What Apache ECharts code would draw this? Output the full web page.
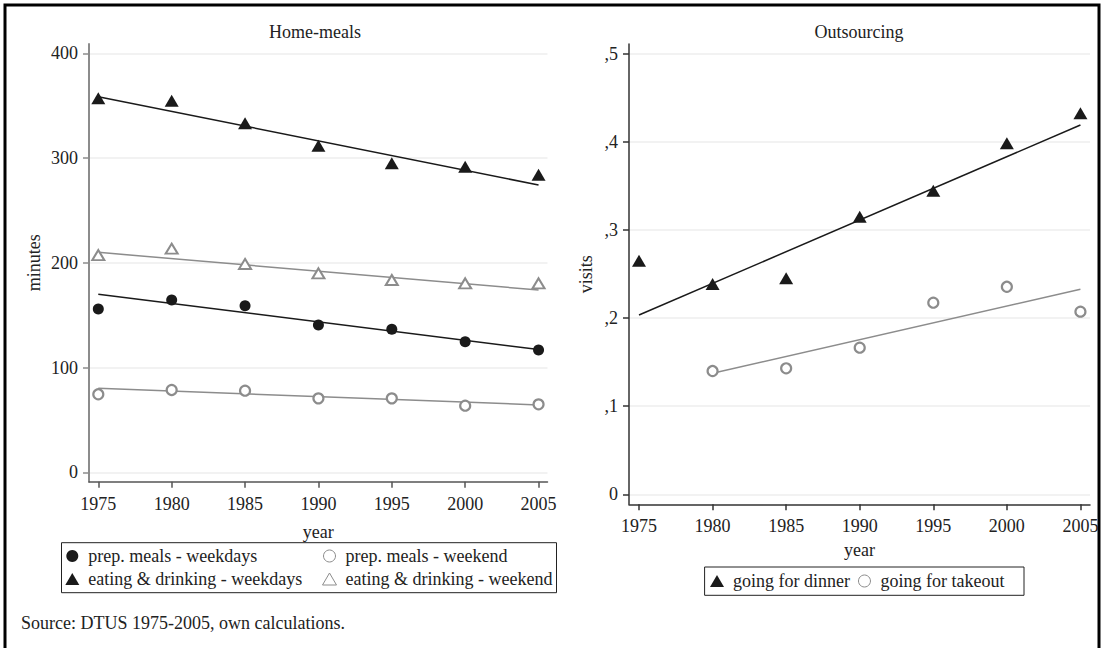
<!DOCTYPE html>
<html>
<head>
<meta charset="utf-8">
<script src="https://cdn.jsdelivr.net/npm/echarts@6/dist/echarts.min.js"></script>
<style>html,body{margin:0;padding:0;background:#fff}#c{width:1110px;height:648px}</style>
</head>
<body>
<div id="c"></div>
<script>
// ---- data ----
const years = [1975, 1980, 1985, 1990, 1995, 2000, 2005];
const prepWeekdays = [156, 164.5, 159, 140.6, 136.5, 124.7, 116.8];
const prepWeekend = [74.5, 78.6, 77.9, 70.6, 70.6, 63.6, 64.9];
const eatWeekdays = [357, 354.7, 333.2, 311.8, 295, 291.7, 284.1];
const eatWeekend = [207.4, 213.5, 198.9, 190, 183.6, 180.4, 180.4];
const fitYears = [1975, 2005];
const prepWeekdaysFit = [169.9, 117.2];
const prepWeekendFit = [80.2, 64.3];
const eatWeekdaysFit = [358.6, 274.3];
const eatWeekendFit = [210, 174];

const dinner = [0.2653, 0.2388, 0.2453, 0.3152, 0.3448, 0.3986, 0.4327];
const takeout = [null, 0.140, 0.1431, 0.1665, 0.2176, 0.2357, 0.2074];
const dinnerFitYears = [1975, 2005];
const dinnerFit = [0.2036, 0.4194];
const takeoutFitYears = [1980, 2005];
const takeoutFit = [0.1374, 0.2328];

const xTicks = [1975, 1980, 1985, 1990, 1995, 2000, 2005];
const leftYTicks = [0, 100, 200, 300, 400];
const rightYTicks = [0, 0.1, 0.2, 0.3, 0.4, 0.5];
const rightYTickLabels = ['0', ',1', ',2', ',3', ',4', ',5'];

const names = {
  pwd: 'prep. meals - weekdays',
  pwe: 'prep. meals - weekend',
  ewd: 'eating & drinking - weekdays',
  ewe: 'eating & drinking - weekend',
  din: 'going for dinner',
  tko: 'going for takeout'
};

// ---- styles ----
const FONT = 'Liberation Serif';
const TXT = '#222';
const BLACK = '#1a1a1a';
const GRAY = '#8c8c8c';
const FS = 18;

function pairs(xs, ys) { return xs.map((x, i) => [x, ys[i]]).filter(p => p[1] != null); }

function xAxisCfg(grid, min, max, color, nameGap) {
  return {
    type: 'value', gridIndex: grid, min: min, max: max,
    name: 'year', nameLocation: 'middle', nameGap: nameGap,
    nameTextStyle: { fontFamily: FONT, fontSize: FS, color: TXT },
    axisLine: { show: true, onZero: false, lineStyle: { color: color, width: 1.5 } },
    axisTick: { show: true, length: 6, lineStyle: { color: color, width: 1.5 }, customValues: xTicks },
    axisLabel: { fontFamily: FONT, fontSize: FS, color: TXT, margin: 13, customValues: xTicks, formatter: v => String(v) },
    splitLine: { show: false }
  };
}

const option = {
  animation: false,
  backgroundColor: '#fff',
  grid: [
    { left: 89, top: 44, width: 458.5, height: 437.7, containLabel: false },
    { left: 629, top: 44, width: 461, height: 460.3, containLabel: false }
  ],
  xAxis: [
    xAxisCfg(0, 1974.366, 2005.61, '#555', 41),
    xAxisCfg(1, 1974.32, 2005.65, '#333', 37)
  ],
  yAxis: [
    {
      type: 'value', gridIndex: 0, min: -8.97, max: 408.9,
      name: 'minutes', nameLocation: 'middle', nameGap: 46, nameRotate: 90,
      nameTextStyle: { fontFamily: FONT, fontSize: FS, color: TXT },
      axisLine: { show: true, onZero: false, lineStyle: { color: GRAY, width: 2 } },
      axisTick: { show: true, length: 6, lineStyle: { color: GRAY, width: 1.5 }, customValues: leftYTicks },
      axisLabel: { fontFamily: FONT, fontSize: FS, color: TXT, margin: 11, customValues: leftYTicks },
      splitLine: { show: true, lineStyle: { color: '#eeeeee', width: 1.5 } }
    },
    {
      type: 'value', gridIndex: 1, min: -0.01136, max: 0.5114,
      name: 'visits', nameLocation: 'middle', nameGap: 34, nameRotate: 90,
      nameTextStyle: { fontFamily: FONT, fontSize: FS, color: TXT },
      axisLine: { show: true, onZero: false, lineStyle: { color: '#333', width: 1.5 } },
      axisTick: { show: true, length: 6, lineStyle: { color: '#333', width: 1.5 }, customValues: rightYTicks },
      axisLabel: {
        fontFamily: FONT, fontSize: FS, color: TXT, margin: 11, customValues: rightYTicks,
        formatter: v => { const i = rightYTicks.findIndex(t => Math.abs(t - v) < 1e-9); return i >= 0 ? rightYTickLabels[i] : ''; }
      },
      splitLine: { show: true, lineStyle: { color: '#eeeeee', width: 1.5 } }
    }
  ],
  legend: [
    {
      orient: 'vertical', left: 65.3, top: 547, padding: 0, itemGap: 5,
      itemWidth: 14, itemHeight: 12, selectedMode: false,
      textStyle: { fontFamily: FONT, fontSize: FS, color: TXT, padding: [0, 0, 0, 4] },
      data: [
        { name: names.pwd, icon: 'circle', itemStyle: { color: BLACK, borderWidth: 0 } },
        { name: names.ewd, icon: 'triangle', itemStyle: { color: BLACK, borderWidth: 0 } }
      ]
    },
    {
      orient: 'vertical', left: 322, top: 547, padding: 0, itemGap: 5,
      itemWidth: 14, itemHeight: 12, selectedMode: false,
      textStyle: { fontFamily: FONT, fontSize: FS, color: TXT, padding: [0, 0, 0, 4] },
      data: [
        { name: names.pwe, icon: 'circle', itemStyle: { color: '#fff', borderColor: GRAY, borderWidth: 1 } },
        { name: names.ewe, icon: 'triangle', itemStyle: { color: '#fff', borderColor: GRAY, borderWidth: 1 } }
      ]
    },
    {
      orient: 'horizontal', left: 710, top: 572, padding: 0, itemGap: 8,
      itemWidth: 14, itemHeight: 12, selectedMode: false,
      textStyle: { fontFamily: FONT, fontSize: FS, color: TXT, padding: [0, 0, 0, 4] },
      data: [
        { name: names.din, icon: 'triangle', itemStyle: { color: BLACK, borderWidth: 0 } },
        { name: names.tko, icon: 'circle', itemStyle: { color: '#fff', borderColor: GRAY, borderWidth: 1 } }
      ]
    }
  ],
  graphic: [
    { type: 'rect', shape: { x: 5, y: 5, width: 1094, height: 700 }, style: { fill: 'none', stroke: '#000', lineWidth: 3 }, silent: true },
    { type: 'rect', shape: { x: 61.5, y: 542.7, width: 495, height: 50 }, style: { fill: 'none', stroke: '#222', lineWidth: 1 }, silent: true },
    { type: 'rect', shape: { x: 704.6, y: 567, width: 319.4, height: 28.3 }, style: { fill: 'none', stroke: '#222', lineWidth: 1 }, silent: true },
    { type: 'text', x: 315, y: 31.5, style: { text: 'Home-meals', fontFamily: FONT, fontSize: FS, fill: TXT, align: 'center', verticalAlign: 'middle' } },
    { type: 'text', x: 859, y: 31.5, style: { text: 'Outsourcing', fontFamily: FONT, fontSize: FS, fill: TXT, align: 'center', verticalAlign: 'middle' } },
    { type: 'text', x: 21, y: 623, style: { text: 'Source: DTUS 1975-2005, own calculations.', fontFamily: FONT, fontSize: FS, fill: TXT, align: 'left', verticalAlign: 'middle' } }
  ],
  series: [
    // fit lines, left
    { name: 'fit-ewd', type: 'line', xAxisIndex: 0, yAxisIndex: 0, data: pairs(fitYears, eatWeekdaysFit), showSymbol: false, lineStyle: { color: BLACK, width: 1.5 }, z: 2 },
    { name: 'fit-ewe', type: 'line', xAxisIndex: 0, yAxisIndex: 0, data: pairs(fitYears, eatWeekendFit), showSymbol: false, lineStyle: { color: GRAY, width: 1.5 }, z: 2 },
    { name: 'fit-pwd', type: 'line', xAxisIndex: 0, yAxisIndex: 0, data: pairs(fitYears, prepWeekdaysFit), showSymbol: false, lineStyle: { color: BLACK, width: 1.5 }, z: 2 },
    { name: 'fit-pwe', type: 'line', xAxisIndex: 0, yAxisIndex: 0, data: pairs(fitYears, prepWeekendFit), showSymbol: false, lineStyle: { color: GRAY, width: 1.5 }, z: 2 },
    // scatter, left
    { name: names.pwd, type: 'scatter', xAxisIndex: 0, yAxisIndex: 0, data: pairs(years, prepWeekdays), symbol: 'circle', symbolSize: 11, itemStyle: { color: BLACK, opacity: 1 }, z: 3 },
    { name: names.pwe, type: 'scatter', xAxisIndex: 0, yAxisIndex: 0, data: pairs(years, prepWeekend), symbol: 'circle', symbolSize: 10, itemStyle: { color: '#fff', borderColor: GRAY, borderWidth: 2.2, opacity: 1 }, z: 3 },
    { name: names.ewd, type: 'scatter', xAxisIndex: 0, yAxisIndex: 0, data: pairs(years, eatWeekdays), symbol: 'triangle', symbolSize: [14, 12], itemStyle: { color: BLACK, opacity: 1 }, z: 3 },
    { name: names.ewe, type: 'scatter', xAxisIndex: 0, yAxisIndex: 0, data: pairs(years, eatWeekend), symbol: 'triangle', symbolSize: [12, 10], itemStyle: { color: '#fff', borderColor: GRAY, borderWidth: 2, opacity: 1 }, z: 3 },
    // right
    { name: 'fit-din', type: 'line', xAxisIndex: 1, yAxisIndex: 1, data: pairs(dinnerFitYears, dinnerFit), showSymbol: false, lineStyle: { color: BLACK, width: 1.5 }, z: 2 },
    { name: 'fit-tko', type: 'line', xAxisIndex: 1, yAxisIndex: 1, data: pairs(takeoutFitYears, takeoutFit), showSymbol: false, lineStyle: { color: GRAY, width: 1.5 }, z: 2 },
    { name: names.din, type: 'scatter', xAxisIndex: 1, yAxisIndex: 1, data: pairs(years, dinner), symbol: 'triangle', symbolSize: [14, 12], itemStyle: { color: BLACK, opacity: 1 }, z: 3 },
    { name: names.tko, type: 'scatter', xAxisIndex: 1, yAxisIndex: 1, data: pairs(years, takeout), symbol: 'circle', symbolSize: 10, itemStyle: { color: '#fff', borderColor: GRAY, borderWidth: 2.2, opacity: 1 }, z: 3 }
  ]
};

const chart = echarts.init(document.getElementById('c'), null, { renderer: 'svg' });
chart.setOption(option);
</script>
</body>
</html>
